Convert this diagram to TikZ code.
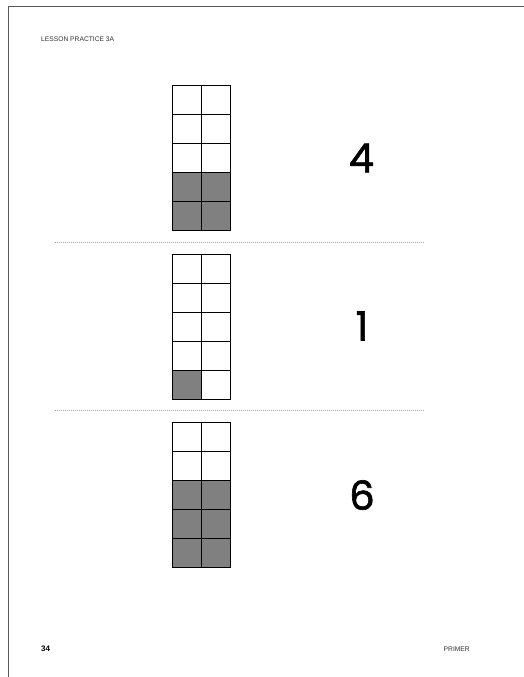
\documentclass[tikz,border=0pt]{standalone}
\usepackage{fontspec}
\setmainfont{Liberation Sans}
\newfontfamily\digitfont[FakeBold=1.6]{Poppins}
\begin{document}
\begin{tikzpicture}[x=1pt,y=-1pt,
  frameline/.style={draw=black!65,line width=1.3pt},
  cellbox/.style={draw=black,line width=0.7pt},
  shade/.style={fill=black!50},
  sepline/.style={draw=black!35,line width=0.6pt,dash pattern=on 1pt off 1pt},
  bignum/.style={font=\digitfont\fontsize{40}{40}\selectfont,inner sep=0pt},
  headtext/.style={font=\fontsize{6.7}{7}\selectfont,text=black!80,inner sep=0pt,anchor=west},
]
\useasboundingbox (0,0) rectangle (524,677);
\fill[white] (0,0) rectangle (524,677);
% frame
\coordinate (ftr) at (524,6.5);
\coordinate (ftl) at (8.5,6.5);
\coordinate (fbl) at (8.5,677);
\draw[frameline] (ftr) -- (ftl) -- (fbl);
% header/footer
\node[headtext] (head) at (41,39) {LESSON PRACTICE 3A};
\node[headtext,font=\bfseries\fontsize{8}{9}\selectfont,text=black] (pg) at (41,649) {34};
\node[headtext,anchor=east] (primer) at (470,649.5) {PRIMER};
% grids
\def\cw{29.3}\def\ch{29}
% grid 1
\foreach \r in {3,4} \foreach \c in {0,1}
  \fill[shade] (172+\c*\cw,85+\r*\ch) rectangle ++(\cw,\ch);
\foreach \r in {0,...,4} \foreach \c in {0,1}
  \draw[cellbox] (172+\c*\cw,85+\r*\ch) rectangle ++(\cw,\ch);
% grid 2
\fill[shade] (172,254+4*\ch) rectangle ++(\cw,\ch);
\foreach \r in {0,...,4} \foreach \c in {0,1}
  \draw[cellbox] (172+\c*\cw,254+\r*\ch) rectangle ++(\cw,\ch);
% grid 3
\foreach \r in {2,3,4} \foreach \c in {0,1}
  \fill[shade] (172+\c*\cw,422+\r*\ch) rectangle ++(\cw,\ch);
\foreach \r in {0,...,4} \foreach \c in {0,1}
  \draw[cellbox] (172+\c*\cw,422+\r*\ch) rectangle ++(\cw,\ch);
% separators
\coordinate (s1a) at (55,242.3);
\coordinate (s1b) at (425,242.3);
\coordinate (s2a) at (55,410.5);
\coordinate (s2b) at (425,410.5);
\draw[sepline] (s1a) -- (s1b);
\draw[sepline] (s2a) -- (s2b);
% numbers
\node[bignum] (n4) at (361.5,158) {4};
\node[bignum] (n1) at (362,326) {1};
\node[bignum] (n6) at (362,495) {6};
\end{tikzpicture}
\end{document}
